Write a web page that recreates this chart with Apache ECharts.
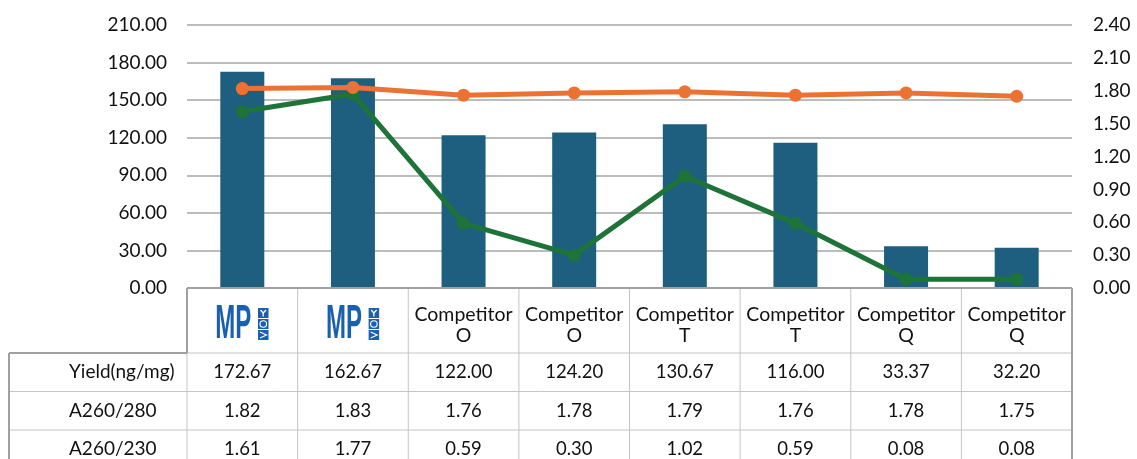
<!DOCTYPE html>
<html><head><meta charset="utf-8">
<script src="https://cdn.jsdelivr.net/npm/echarts@6/dist/echarts.min.js"></script>
<style>html,body{margin:0;padding:0;background:#fff;}#c{width:1137px;height:459px;}</style>
</head><body><div id="c"></div>
<script>
// ---- data ----
const categories = ['MP', 'MP', 'Competitor\nO', 'Competitor\nO', 'Competitor\nT', 'Competitor\nT', 'Competitor\nQ', 'Competitor\nQ'];
const logoCats = [true, true, false, false, false, false, false, false];
const yieldBars = [172.67, 167.5, 122.0, 124.2, 130.67, 116.0, 33.37, 32.2];
const ratio280 = [1.82, 1.83, 1.76, 1.78, 1.79, 1.76, 1.78, 1.75];
const ratio230 = [1.61, 1.77, 0.59, 0.30, 1.02, 0.59, 0.08, 0.08];
const rowNames = ['Yield(ng/mg)', 'A260/280', 'A260/230'];
const yieldText = ['172.67', '162.67', '122.00', '124.20', '130.67', '116.00', '33.37', '32.20'];
const leftAxis = { min: 0, max: 210, interval: 30 };
const rightAxis = { min: 0, max: 2.4, interval: 0.3 };

const FONT = 'Lato';
const chart = echarts.init(document.getElementById('c'), null, { renderer: 'canvas' });

chart.setOption({
  animation: false,
  backgroundColor: '#ffffff',
  grid: { left: 187, right: 65, top: 25, bottom: 171 },
  xAxis: {
    type: 'category',
    data: categories,
    axisLine: { show: false },
    axisTick: { show: false },
    axisLabel: {
      interval: 0, margin: 16, fontFamily: FONT, fontSize: 19.5, lineHeight: 21, color: '#111',
      formatter: (v, i) => logoCats[i] ? '' : v
    }
  },
  yAxis: [
    {
      type: 'value', min: leftAxis.min, max: leftAxis.max, interval: leftAxis.interval,
      axisLine: { show: false }, axisTick: { show: false },
      axisLabel: { margin: 20, fontFamily: FONT, fontSize: 19, color: '#111', formatter: v => v.toFixed(2) },
      splitLine: { lineStyle: { color: '#a6a6a6', width: 1.5 } }
    },
    {
      type: 'value', min: rightAxis.min, max: rightAxis.max, interval: rightAxis.interval,
      axisLine: { show: false }, axisTick: { show: false },
      axisLabel: { margin: 21, fontFamily: FONT, fontSize: 19, color: '#111', formatter: v => v.toFixed(2) },
      splitLine: { show: false }
    }
  ],
  series: [
    { name: 'Yield(ng/mg)', type: 'bar', data: yieldBars, barWidth: 44, itemStyle: { color: '#1e5f80' }, z: 2 },
    { name: 'A260/230', type: 'line', yAxisIndex: 1, data: ratio230, symbol: 'circle', symbolSize: 13,
      lineStyle: { color: '#1e7338', width: 5 }, itemStyle: { color: '#1e7338' }, z: 3 },
    { name: 'A260/280', type: 'line', yAxisIndex: 1, data: ratio280, symbol: 'circle', symbolSize: 13,
      lineStyle: { color: '#ec7233', width: 5 }, itemStyle: { color: '#ec7233' }, z: 4 }
  ]
});

function buildTable() {
  const xs = categories.map((c, i) => chart.convertToPixel({ xAxisIndex: 0 }, i));
  const band = xs[1] - xs[0];
  const left = xs[0] - band / 2, right = xs[xs.length - 1] + band / 2;
  const y0 = chart.convertToPixel({ yAxisIndex: 0 }, 0);
  const headH = 65, rowH = 38.5, tableLeft = 9;
  const headBottom = y0 + headH;
  const bottom = headBottom + rowH * 3 + 5;
  const light = '#c4c4c4', dark = '#a0a0a0';
  const els = [];
  const line = (x1, y1, x2, y2, color, w) => els.push({
    type: 'line', z: 10, shape: { x1, y1, x2, y2 }, style: { stroke: color, lineWidth: w }, silent: true
  });
  // inner lines
  for (let k = 1; k < xs.length; k++) line(left + k * band, y0, left + k * band, bottom, light, 1);
  line(left, headBottom, right, headBottom, light, 1);
  for (let r = 1; r < 3; r++) line(tableLeft, headBottom + r * rowH, right, headBottom + r * rowH, light, 1);
  line(left, headBottom, left, bottom, light, 1);
  // outer borders
  line(left, y0, right, y0, dark, 2);
  line(left, y0, left, headBottom, dark, 2);
  line(right, y0, right, bottom, dark, 2);
  line(tableLeft, headBottom, left, headBottom, dark, 2);
  line(tableLeft, headBottom, tableLeft, bottom, dark, 2);
  // row texts
  const rows = [yieldText, ratio280.map(v => v.toFixed(2)), ratio230.map(v => v.toFixed(2))];
  rows.forEach((vals, r) => {
    const cy = headBottom + rowH * (r + 0.5);
    els.push({ type: 'text', z: 11, x: 69, y: cy, silent: true,
      style: { text: rowNames[r], font: '19px ' + FONT, fill: '#111', align: 'left', verticalAlign: 'middle', textAlign: 'left', textVerticalAlign: 'middle' } });
    vals.forEach((t, i) => {
      els.push({ type: 'text', z: 11, x: xs[i], y: cy, silent: true,
        style: { text: t, font: '18.5px ' + FONT, fill: '#111', align: 'center', verticalAlign: 'middle', textAlign: 'center', textVerticalAlign: 'middle' } });
    });
  });
  // MP logos
  const blue = '#1a60b0';
  xs.forEach((cx, i) => {
    if (!logoCats[i]) return;
    const cyL = y0 + 36;
    els.push({ type: 'text', z: 11, x: cx - 27, y: cyL, scaleX: 0.49, silent: true,
      style: { text: categories[i], font: 'bold 49px "Liberation Sans"', fill: blue, align: 'left', verticalAlign: 'middle', textAlign: 'left', textVerticalAlign: 'middle' } });
    const ix = cx + 15.7, iy = cyL - 16;
    for (let k = 0; k < 3; k++) {
      const by = iy + k * 11;
      els.push({ type: 'rect', z: 11, silent: true, shape: { x: ix, y: by, width: 10.5, height: 10 }, style: { fill: blue } });
      if (k === 0) {
        els.push({ type: 'polyline', z: 12, silent: true, shape: { points: [[ix + 2.5, by + 2], [ix + 5.2, by + 5], [ix + 8, by + 2]] }, style: { stroke: '#fff', lineWidth: 1.3, fill: null } });
        els.push({ type: 'line', z: 12, silent: true, shape: { x1: ix + 5.2, y1: by + 5, x2: ix + 5.2, y2: by + 8.5 }, style: { stroke: '#fff', lineWidth: 1.3 } });
      } else if (k === 1) {
        els.push({ type: 'circle', z: 12, silent: true, shape: { cx: ix + 5.25, cy: by + 5, r: 3.3 }, style: { stroke: '#fff', lineWidth: 1.1, fill: null } });
      } else {
        els.push({ type: 'polyline', z: 12, silent: true, shape: { points: [[ix + 2, by + 2], [ix + 8.5, by + 5], [ix + 2, by + 8]] }, style: { stroke: '#fff', lineWidth: 1.2, fill: null } });
      }
    }
  });
  chart.setOption({ graphic: { elements: els } });
}
buildTable();
</script>
</body></html>
